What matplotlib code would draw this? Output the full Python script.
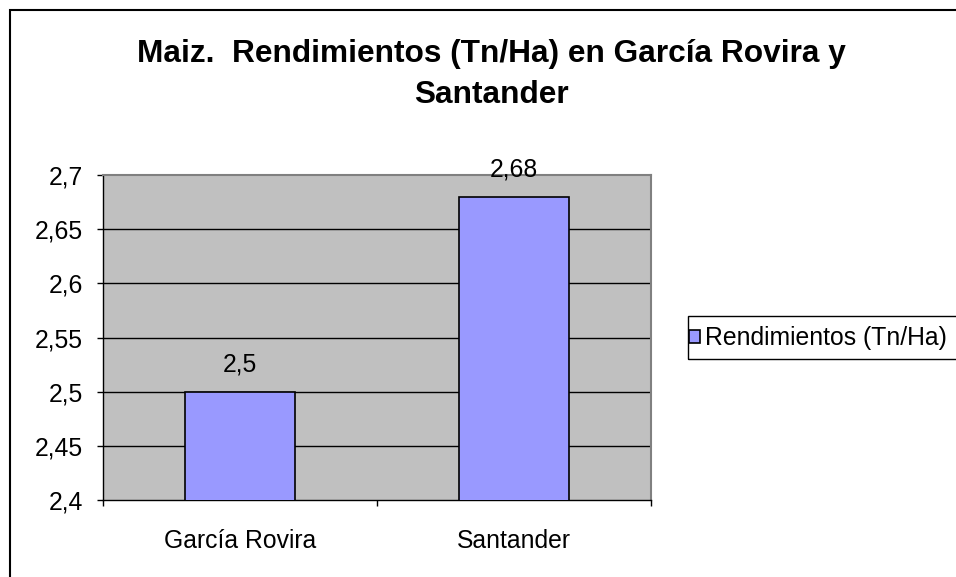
import matplotlib.pyplot as plt
from matplotlib.patches import Rectangle

plt.rcParams['font.family'] = ['Liberation Sans', 'DejaVu Sans']

categories = ['García Rovira', 'Santander']
rendimientos = [2.5, 2.68]
y_ticks = [2.4, 2.45, 2.5, 2.55, 2.6, 2.65, 2.7]
y_labels = ['2,4', '2,45', '2,5', '2,55', '2,6', '2,65', '2,7']
bar_labels = ['2,5', '2,68']
series_name = 'Rendimientos (Tn/Ha)'
title = 'Maiz.  Rendimientos (Tn/Ha) en García Rovira y\nSantander'

fs = 17.8
W, H = 956, 577

fig = plt.figure(figsize=(9.56, 5.77), dpi=100)

# outer chart border (clipped on right and bottom like the original)
fig.patches.append(Rectangle((10 / W, -0.1), 1.2, (H - 10) / H + 0.1,
                             transform=fig.transFigure, fill=False,
                             edgecolor='black', linewidth=1.5))

ax = fig.add_axes([103 / W, 77 / H, 548 / W, 325 / H])
ax.set_facecolor('#C0C0C0')

x = list(range(len(categories)))
ax.bar(x, rendimientos, width=0.4, color='#9999FF', edgecolor='black',
       linewidth=1.2, zorder=3, label=series_name)

for xi, v, lab in zip(x, rendimientos, bar_labels):
    ax.annotate(lab, (xi, v), xytext=(0, 11), textcoords='offset points',
                ha='center', va='bottom', fontsize=fs)

ax.set_xlim(-0.5, 1.5)
ax.set_ylim(2.4, 2.7)
ax.set_yticks(y_ticks)
ax.set_yticklabels(y_labels, fontsize=fs)
ax.set_xticks(x)
ax.set_xticklabels(categories, fontsize=fs)
ax.tick_params(axis='x', length=0, pad=21)
ax.set_xticks([-0.5, 0.5, 1.5], minor=True)
ax.tick_params(axis='x', which='minor', length=4.5, width=1, direction='out')
ax.tick_params(axis='y', length=4.5, width=1, direction='out', pad=10)

for t in y_ticks[1:-1]:
    ax.axhline(t, color='black', linewidth=1, zorder=1)

ax.spines['left'].set_color('black')
ax.spines['bottom'].set_color('black')
ax.spines['top'].set_color('#808080')
ax.spines['right'].set_color('#808080')
for s in ax.spines.values():
    s.set_linewidth(1.5)
ax.spines['left'].set_linewidth(1)
ax.spines['bottom'].set_linewidth(1)

fig.text(491 / W, 1 - 74.5 / H, title, ha='center', va='center',
         fontsize=22.8, fontweight='bold', linespacing=1.5)

# legend: frame runs off the right edge, as in the original
fig.patches.append(Rectangle((688 / W, 1 - 359 / H), 0.5, 43 / H,
                             transform=fig.transFigure, fill=False,
                             edgecolor='black', linewidth=1))
leg = fig.legend(loc='center left', bbox_to_anchor=(689 / W, 1 - 338 / H),
                 fontsize=fs, frameon=False,
                 handlelength=0.45, handleheight=0.45, handletextpad=0.2,
                 borderpad=0, borderaxespad=0)

fig.savefig('out.png', dpi=100)
